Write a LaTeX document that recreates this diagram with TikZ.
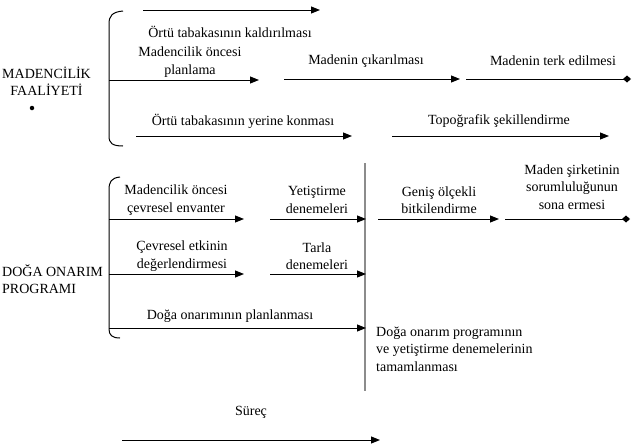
\documentclass[tikz,border=0pt]{standalone}
\usepackage{fontspec}
\setmainfont{Liberation Serif}
\usetikzlibrary{arrows.meta}
\begin{document}
\begin{tikzpicture}[x=1pt,y=-1pt,
  lbl/.style={inner sep=0pt,align=center,font=\fontsize{14}{17.5}\selectfont},
  arr/.style={line width=1pt,-{Triangle[length=9pt,width=7pt]}},
  dend/.style={line width=1pt,-{Diamond[length=8pt,width=7pt]}},
  brace/.style={line width=1pt},
  sep/.style={line width=1.1pt,draw=black!45}]
\useasboundingbox (0,0) rectangle (637,447);
% ---------- MADENCILIK FAALIYETI ----------
\node[lbl,anchor=west] (mf) at (2,81) {MADENC\.{I}L\.{I}K\\FAAL\.{I}YET\.{I}};
\node[circle,fill=black,inner sep=0pt,minimum size=4.5pt] (dot) at (32,108) {};
\draw[brace] (123,11) .. controls (112,12) and (109,16) .. (109,24) -- (109,136) .. controls (109,143) and (112,146) .. (123,146);
\coordinate (a1s) at (143,10); \coordinate (a1e) at (320,10);
\draw[arr] (a1s) -- (a1e);
\node[lbl] (t1) at (230,32) {Örtü tabakasının kaldırılması};
\node[lbl] (t2) at (190,62) {Madencilik öncesi\\planlama};
\coordinate (a2s) at (109,80); \coordinate (a2e) at (259,80);
\draw[arr] (a2s) -- (a2e);
\node[lbl] (t3) at (366,61) {Madenin çıkarılması};
\coordinate (a3s) at (284,79); \coordinate (a3e) at (460,79);
\draw[arr] (a3s) -- (a3e);
\node[lbl] (t4) at (553,61) {Madenin terk edilmesi};
\coordinate (a4s) at (466,79); \coordinate (a4e) at (631,79);
\draw[dend] (a4s) -- (a4e);
\node[lbl] (t5) at (243,121) {Örtü tabakasının yerine konması};
\coordinate (a5s) at (136,136); \coordinate (a5e) at (352,136);
\draw[arr] (a5s) -- (a5e);
\node[lbl] (t6) at (499,121) {Topoğrafik şekillendirme};
\coordinate (a6s) at (392,136); \coordinate (a6e) at (609,136);
\draw[arr] (a6s) -- (a6e);
% ---------- DOGA ONARIM PROGRAMI ----------
\node[lbl,anchor=west,align=left] (dp) at (2,279) {DOĞA ONARIM\\PROGRAMI};
\draw[brace] (120,177) .. controls (111,178) and (109,182) .. (109,190) -- (109,329) .. controls (109,335) and (112,338) .. (120,338);
\coordinate (vs) at (365,163); \coordinate (ve) at (365,391);
\draw[sep] (vs) -- (ve);
\node[lbl] (b1) at (176,200) {Madencilik öncesi\\çevresel envanter};
\coordinate (b1s) at (109,219); \coordinate (b1e) at (244,219);
\draw[arr] (b1s) -- (b1e);
\node[lbl] (b2) at (317,200) {Yetiştirme\\denemeleri};
\coordinate (b2s) at (270,219); \coordinate (b2e) at (366,219);
\draw[arr] (b2s) -- (b2e);
\node[lbl] (b3) at (182,256) {Çevresel etkinin\\değerlendirmesi};
\coordinate (b3s) at (109,274); \coordinate (b3e) at (244,274);
\draw[arr] (b3s) -- (b3e);
\node[lbl] (b4) at (317,256) {Tarla\\denemeleri};
\coordinate (b4s) at (270,274); \coordinate (b4e) at (366,274);
\draw[arr] (b4s) -- (b4e);
\node[lbl] (b5) at (230,316) {Doğa onarımının planlanması};
\coordinate (b5s) at (109,328); \coordinate (b5e) at (366,328);
\draw[arr] (b5s) -- (b5e);
\node[lbl] (b6) at (439,200) {Geniş ölçekli\\bitkilendirme};
\coordinate (b6s) at (378,219); \coordinate (b6e) at (499,219);
\draw[arr] (b6s) -- (b6e);
\node[lbl] (b7) at (572,187) {Maden şirketinin\\sorumluluğunun\\sona ermesi};
\coordinate (b7s) at (505,219); \coordinate (b7e) at (630,219);
\draw[dend] (b7s) -- (b7e);
\node[lbl,anchor=west,align=left] (b8) at (376,349) {Doğa onarım programının\\ve yetiştirme denemelerinin\\tamamlanması};
% ---------- Surec ----------
\node[lbl] (sr) at (251,412) {Süreç};
\coordinate (ss) at (122,440); \coordinate (se) at (380,440);
\draw[arr] (ss) -- (se);
\end{tikzpicture}
\end{document}
